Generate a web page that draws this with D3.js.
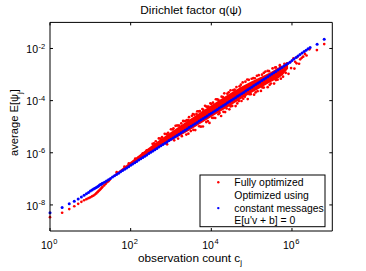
<!DOCTYPE html>
<html><head><meta charset="utf-8">
<script src="https://cdn.jsdelivr.net/npm/d3@7"></script>
<style>
body{margin:0;background:#fff}
svg{display:block}
text{font-family:"Liberation Sans",Arial,Helvetica,sans-serif;fill:#000}
</style>
</head><body>
<svg id="chart" width="366" height="271"></svg>
<script>
// ---- data ----
const chartTitle = "Dirichlet factor q(\u03C8)";
const xTickValues = [1, 1e2, 1e4, 1e6];
const xTickExponents = ["0", "2", "4", "6"];
const yTickValues = [1e-8, 1e-6, 1e-4, 1e-2];
const yTickExponents = ["-8", "-6", "-4", "-2"];
const legendEntries = [["Fully optimized"], ["Optimized using", "constant messages", "E[u'v + b] = 0"]];

// "Optimized using constant messages" (blue)
const blueC = [1,2,3,4,5,6,7,8,9,10,11,12,13,14,15,16,17,18,19,20,
  22.4,25.1,28.2,31.6,35.5,39.8,44.7,50.1,56.2,63.1,70.8,79.4,89.1,
  100,112,126,141,158,178,200,224,251,282,316,355,398,447,501,562,631,708,794,891,
  1000,1120,1260,1410,1580,1780,2000,2240,2510,2820,3160,3550,3980,4470,5010,5620,6310,7080,7940,8910,
  1e4,1.12e4,1.26e4,1.41e4,1.58e4,1.78e4,2e4,2.24e4,2.51e4,2.82e4,3.16e4,3.55e4,3.98e4,4.47e4,5.01e4,5.62e4,6.31e4,7.08e4,7.94e4,8.91e4,
  1e5,1.12e5,1.26e5,1.41e5,1.58e5,1.78e5,2e5,2.24e5,2.51e5,2.82e5,3.16e5,3.55e5,3.98e5,4.47e5,5.01e5,5.62e5,6.31e5,7.08e5,7.94e5,8.91e5,
  1e6,1.12e6,1.26e6,1.41e6,1.58e6,1.78e6,2e6,2.24e6,2.51e6,2.82e6,4.2e6,6.3e6];
const bluePsi = [5.0e-9,7.9e-9,1.12e-8,1.38e-8,1.70e-8,2.0e-8,2.34e-8,2.69e-8,3.02e-8,3.39e-8,3.72e-8,4.07e-8,4.37e-8,4.68e-8,5.0e-8,5.37e-8,5.75e-8,6.03e-8,6.31e-8,6.76e-8,
  7.4e-8,8.3e-8,9.3e-8,1.04e-7,1.17e-7,1.31e-7,1.48e-7,1.65e-7,1.86e-7,2.08e-7,2.34e-7,2.62e-7,2.94e-7,
  3.32e-7,3.72e-7,4.18e-7,4.66e-7,5.24e-7,5.9e-7,6.62e-7,7.4e-7,8.3e-7,9.3e-7,1.04e-6,1.17e-6,1.31e-6,1.47e-6,1.65e-6,1.85e-6,2.08e-6,2.33e-6,2.61e-6,2.93e-6,
  3.28e-6,3.68e-6,4.13e-6,4.62e-6,5.18e-6,5.83e-6,6.55e-6,7.33e-6,8.2e-6,9.22e-6,1.03e-5,1.16e-5,1.3e-5,1.46e-5,1.64e-5,1.84e-5,2.06e-5,2.31e-5,2.6e-5,2.91e-5,
  3.27e-5,3.67e-5,4.12e-5,4.61e-5,5.17e-5,5.82e-5,6.54e-5,7.33e-5,8.21e-5,9.22e-5,1.03e-4,1.16e-4,1.3e-4,1.46e-4,1.64e-4,1.84e-4,2.06e-4,2.32e-4,2.6e-4,2.92e-4,
  3.28e-4,3.69e-4,4.15e-4,4.65e-4,5.22e-4,5.88e-4,6.6e-4,7.4e-4,8.3e-4,9.35e-4,1.05e-3,1.18e-3,1.32e-3,1.49e-3,1.67e-3,1.88e-3,2.11e-3,2.37e-3,2.66e-3,2.99e-3,
  3.45e-3,3.95e-3,4.5e-3,5.1e-3,5.9e-3,6.7e-3,7.6e-3,8.6e-3,9.7e-3,1.1e-2,1.45e-2,2.25e-2];

// "Fully optimized" (red): individual points
const redC = [1,2,3,4,5,6,7,8,9,10,11,12,13,14,15,16,17,18,19,20,22,24,26,28,30,
  45,70,90,130,160,200,250,280,
  350,420,500,600,700,850,1000,1150,1300,1500,1800,2100,2500,2800,3300,3800,4500,5200,6000,7000,8000,9500,
  1.1e4,1.3e4,1.5e4,1.8e4,2.1e4,2.5e4,3.0e4,3.5e4,4.2e4,5.0e4,6.0e4,7.0e4,8.5e4,1.0e5,
  1.2e5,1.5e5,1.8e5,2.2e5,2.7e5,3.3e5,4.0e5,5.0e5,6.5e5,1.1e5,1.35e5,2.0e5,2.5e5,3.8e5,
  380,550,780,1100,1400,1600,2000,2300,2700,3500,4300,4900,6300,7500,8500,1.0e4,1.4e4,1.95e4,2.7e4,3.8e4,5.4e4,7.8e4,
  1200,1860,2400,3100,4000,5000,6200,7500,9000,1.05e4,1.25e4,1.5e4,1.75e4,2.0e4,2.4e4,2.8e4,3.3e4,4.0e4,4.8e4,5.6e4,6.8e4,8.0e4,9.5e4,
  800,1500,2700,3600,5500,8200,1.15e4,1.6e4,2.2e4,3.0e4,4.4e4,6.2e4,8.8e4,
  1.15e5,1.4e5,1.7e5,2.0e5,2.5e5,3.0e5,3.6e5,4.4e5,5.3e5,1.25e5,1.85e5,2.8e5,4.0e5,
  6.0e5,7.0e5,8.2e5,9.5e5,1.15e6,1.3e6,1.5e6,1.75e6,2.3e6,
  5.1e5,7.5e5,9.0e5,1.09e6,1.2e6,1.35e6,1.6e6,1.9e6,2.1e6,2.7e6,4.15e6,6.3e6];
const redPsi = [3.39e-9,5.01e-9,6.92e-9,8.91e-9,1.10e-8,1.32e-8,1.51e-8,1.66e-8,1.82e-8,1.95e-8,2.14e-8,2.29e-8,2.51e-8,2.75e-8,3.09e-8,3.39e-8,3.72e-8,4.07e-8,4.47e-8,4.90e-8,5.62e-8,6.46e-8,7.41e-8,8.13e-8,9.12e-8,
  1.8e-7,2.94e-7,3.96e-7,5.98e-7,6.72e-7,9.6e-7,1.25e-6,1.26e-6,
  2.2e-6,2.77e-6,3.55e-6,3.96e-6,5.32e-6,5.87e-6,7.9e-6,8.74e-6,1.08e-5,1.11e-5,1.33e-5,1.62e-5,1.78e-5,2.32e-5,2.61e-5,2.89e-5,3.92e-5,3.95e-5,4.74e-5,6.37e-5,5.76e-5,7.89e-5,
  8.36e-5,1.13e-4,1.07e-4,1.42e-4,1.91e-4,1.85e-4,2.49e-4,2.52e-4,3.32e-4,3.55e-4,4.98e-4,5.32e-4,6.29e-4,6.9e-4,
  7.2e-4,9.45e-4,9.9e-4,1.3e-3,1.35e-3,1.72e-3,1.88e-3,2.28e-3,2.57e-3,7.26e-4,8.91e-4,1.15e-3,1.38e-3,1.86e-3,
  2.28e-6,3.47e-6,5.15e-6,7.81e-6,1.11e-5,1.1e-5,1.66e-5,1.66e-5,1.81e-5,3.05e-5,3.1e-5,3.87e-5,4.47e-5,5.93e-5,5.87e-5,7.4e-5,1.11e-4,1.38e-4,2.08e-4,2.62e-4,4.1e-4,6.47e-4,
  3.0e-6,4.35e-6,4.99e-6,6.82e-6,7.44e-6,1.04e-5,1.02e-5,1.5e-5,1.39e-5,2.18e-5,2.16e-5,3.0e-5,2.57e-5,3.72e-5,4.99e-5,4.62e-5,6.27e-5,6.16e-5,9.6e-5,9.69e-5,1.41e-4,1.15e-4,1.77e-4,
  2.1e-6,3.51e-6,5.4e-6,7.49e-6,1.0e-5,1.64e-5,2.19e-5,3.33e-5,3.63e-5,6.0e-5,7.79e-5,1.18e-4,1.76e-4,
  1.69e-4,2.31e-4,2.35e-4,3.16e-4,3.28e-4,4.53e-4,4.5e-4,6.34e-4,6.94e-4,2.06e-4,3.2e-4,4.03e-4,6.16e-4,
  8.28e-4,1.16e-3,1.07e-3,1.77e-3,1.69e-3,2.7e-3,2.6e-3,4.38e-3,5.38e-3,
  2.0e-3,2.69e-3,3.0e-3,4.17e-3,3.09e-3,4.68e-3,3.85e-3,4.84e-3,6.17e-3,9.3e-3,8.7e-3,1.48e-2];

// "Fully optimized" (red): dense core of the cloud, lower / upper edge
const redBandC  = [32, 50, 100, 200, 500, 1000, 3000, 1e4, 3e4, 1e5, 3e5, 6e5, 8e5];
const redBandLo = [1.056e-7, 1.65e-7, 3.3e-7, 6.6e-7, 1.58e-6, 2.87e-6, 7.5e-6, 2.34e-5, 6.54e-5, 1.99e-4, 5.19e-4, 9.9e-4, 1.66e-3];
const redBandHi = [1.107e-7, 1.94e-7, 4.55e-7, 1.05e-6, 2.94e-6, 6.29e-6, 1.97e-5, 6.58e-5, 1.97e-4, 5.48e-4, 1.25e-3, 2.22e-3, 2.35e-3];

// ---- drawing ----
const svg = d3.select("#chart");
svg.append("rect").attr("width", 366).attr("height", 271).attr("fill", "#fff");

const L = 50, R = 332.3, T = 22.4, B = 231;
const x = d3.scaleLog().domain([1, 1e7]).range([L, R]);
const y = d3.scaleLog().domain([1e-9, 1e-1]).range([B, T]);

const red = "#ff0000", blue = "#0000ff";
const dotR = 1.35;

// red core band
const band = redBandC.map((c, i) => ({c, lo: redBandLo[i], hi: redBandHi[i]}));
svg.append("path")
  .datum(band)
  .attr("fill", red)
  .attr("d", d3.area().x(d => x(d.c)).y0(d => y(d.lo)).y1(d => y(d.hi)).curve(d3.curveMonotoneX));

// red points
svg.append("g").selectAll("circle")
  .data(redC.map((c, i) => ({c, p: redPsi[i]})))
  .join("circle")
  .attr("cx", d => x(d.c)).attr("cy", d => y(d.p)).attr("r", dotR).attr("fill", red);

// blue points
svg.append("g").selectAll("circle")
  .data(blueC.map((c, i) => ({c, p: bluePsi[i]})))
  .join("circle")
  .attr("cx", d => x(d.c)).attr("cy", d => y(d.p)).attr("r", dotR + 0.15).attr("fill", blue);

// axes (box with inward ticks)
const tick = 3;
function styleAxis(g) {
  g.selectAll("path.domain").attr("stroke", "#000").attr("stroke-width", 1);
  g.selectAll(".tick line").attr("stroke", "#000").attr("stroke-width", 1);
  g.selectAll(".tick text").remove();
}
svg.append("g").attr("transform", `translate(0,${B})`)
  .call(d3.axisBottom(x).tickValues(xTickValues).tickSize(-tick).tickSizeOuter(0).offset(0)).call(styleAxis);
svg.append("g").attr("transform", `translate(0,${T})`)
  .call(d3.axisTop(x).tickValues(xTickValues).tickSize(-tick).tickSizeOuter(0).offset(0)).call(styleAxis);
svg.append("g").attr("transform", `translate(${L},0)`)
  .call(d3.axisLeft(y).tickValues(yTickValues).tickSize(-tick).tickSizeOuter(0).offset(0)).call(styleAxis);
svg.append("g").attr("transform", `translate(${R},0)`)
  .call(d3.axisRight(y).tickValues(yTickValues).tickSize(-tick).tickSizeOuter(0).offset(0)).call(styleAxis);

// tick labels with superscripts
xTickValues.forEach((v, i) => {
  const tx = x(v);
  svg.append("text").attr("x", tx + 2.6).attr("y", 249).attr("text-anchor", "end")
    .attr("font-size", 10.5).text("10");
  svg.append("text").attr("x", tx + 3.2).attr("y", 244).attr("font-size", 7.5).text(xTickExponents[i]);
});
yTickValues.forEach((v, i) => {
  const ty = y(v);
  svg.append("text").attr("x", 38).attr("y", ty + 4.8).attr("text-anchor", "end")
    .attr("font-size", 10.5).text("10");
  svg.append("text").attr("x", 38.4).attr("y", ty + 0.2).attr("font-size", 7.5).text(yTickExponents[i]);
});

// title
svg.append("text").attr("x", 191).attr("y", 13.5).attr("text-anchor", "middle")
  .attr("font-size", 11.8).text(chartTitle);

// x label
const xl = svg.append("text").attr("x", 190).attr("y", 261.5).attr("text-anchor", "middle").attr("font-size", 11.8);
xl.append("tspan").text("observation count c");
xl.append("tspan").attr("dy", 3.5).attr("font-size", 8).text("j");

// y label
const yl = svg.append("text").attr("transform", "translate(18.3,122.5) rotate(-90)")
  .attr("text-anchor", "middle").attr("font-size", 11.2);
yl.append("tspan").text("average E[\u03C8");
yl.append("tspan").attr("dy", 3.5).attr("font-size", 8).text("j");
yl.append("tspan").attr("dy", -3.5).text("]");

// legend
const lg = svg.append("g");
lg.append("rect").attr("x", 200).attr("y", 175).attr("width", 125).attr("height", 51.7)
  .attr("fill", "#fff").attr("stroke", "#000").attr("stroke-width", 1);
const baselines = [[185.6], [198.9, 211.5, 224.1]];
const legendColors = [red, blue];
const markerY = [182.3, 208.1];
legendEntries.forEach((lines, i) => {
  lg.append("circle").attr("cx", 218.3).attr("cy", markerY[i]).attr("r", 1.2).attr("fill", legendColors[i]);
  lines.forEach((t, j) => {
    lg.append("text").attr("x", 234.3).attr("y", baselines[i][j]).attr("font-size", 10.4).text(t);
  });
});
</script>
</body></html>
